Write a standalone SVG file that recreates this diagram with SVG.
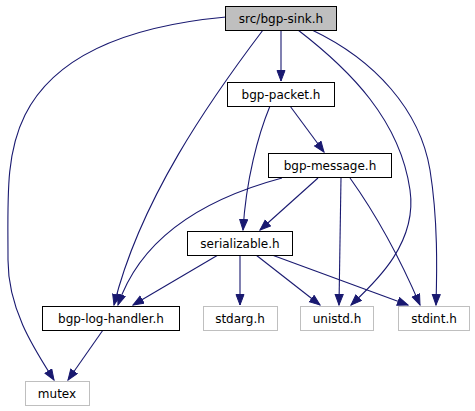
<svg xmlns="http://www.w3.org/2000/svg" width="475" height="411" viewBox="0 0 475 411">
<defs>
<style>
.n rect{fill:#fff;stroke:#000;stroke-width:1}
.n.root rect{fill:#bfbfbf}
.n.ext rect{stroke:#bfbfbf}
.n text{font-family:"DejaVu Sans",sans-serif;font-size:12px;fill:#000;text-anchor:middle}
#edges path{fill:none;stroke:#191970;stroke-width:1.1;marker-end:url(#ah)}
</style>
<marker id="ah" markerUnits="userSpaceOnUse" markerWidth="12" markerHeight="10" refX="11" refY="4.5" orient="auto">
<path d="M0.5,0.5 L11,4.5 L0.5,8.5 z" fill="#191970" stroke="#191970" stroke-width="1"/>
</marker>
</defs>
<rect width="475" height="411" fill="#fff"/>
<g id="edges">
<path d="M226,17 C150,24 60,45 25,115 C5,155 8,200 8,260 C8,310 35,350 54,380"/>
<path d="M281,30 L281,81"/>
<path d="M263,30 C210,100 140,200 114,305"/>
<path d="M298,30 C350,70 400,120 410,190 C418,245 372,285 351,305"/>
<path d="M312,30 C375,60 420,110 430,170 C438,220 437,270 436,305"/>
<path d="M290,106 L324,152"/>
<path d="M270,106 C258,135 246,180 243,230"/>
<path d="M318,178 L260,230"/>
<path d="M282,178 C200,200 140,240 118,305"/>
<path d="M341,178 L339,305"/>
<path d="M350,178 C380,220 405,270 420,305"/>
<path d="M218,255 L133,305"/>
<path d="M240,255 L240,305"/>
<path d="M256,255 L320,305"/>
<path d="M272,255 L408,305"/>
<path d="M103,330 L68,380"/>
</g>
<g id="n-root" class="n root"><rect x="225.5" y="6.5" width="111" height="24"/><text x="281" y="23">src/bgp-sink.h</text></g>
<g id="n-packet" class="n"><rect x="227.5" y="82.5" width="107" height="24"/><text x="281" y="99">bgp-packet.h</text></g>
<g id="n-message" class="n"><rect x="268.5" y="153.5" width="123" height="24"/><text x="330" y="170">bgp-message.h</text></g>
<g id="n-serializable" class="n"><rect x="187.5" y="231.5" width="105" height="24"/><text x="240" y="248">serializable.h</text></g>
<g id="n-loghandler" class="n"><rect x="42.5" y="306.5" width="137" height="24"/><text x="111" y="323">bgp-log-handler.h</text></g>
<g id="n-stdarg" class="n ext"><rect x="203.5" y="306.5" width="74" height="24"/><text x="240" y="323">stdarg.h</text></g>
<g id="n-unistd" class="n ext"><rect x="300.5" y="306.5" width="73" height="24"/><text x="337" y="323">unistd.h</text></g>
<g id="n-stdint" class="n ext"><rect x="398.5" y="306.5" width="71" height="24"/><text x="434" y="323">stdint.h</text></g>
<g id="n-mutex" class="n ext"><rect x="25.5" y="381.5" width="64" height="24"/><text x="57" y="398">mutex</text></g>
</svg>
